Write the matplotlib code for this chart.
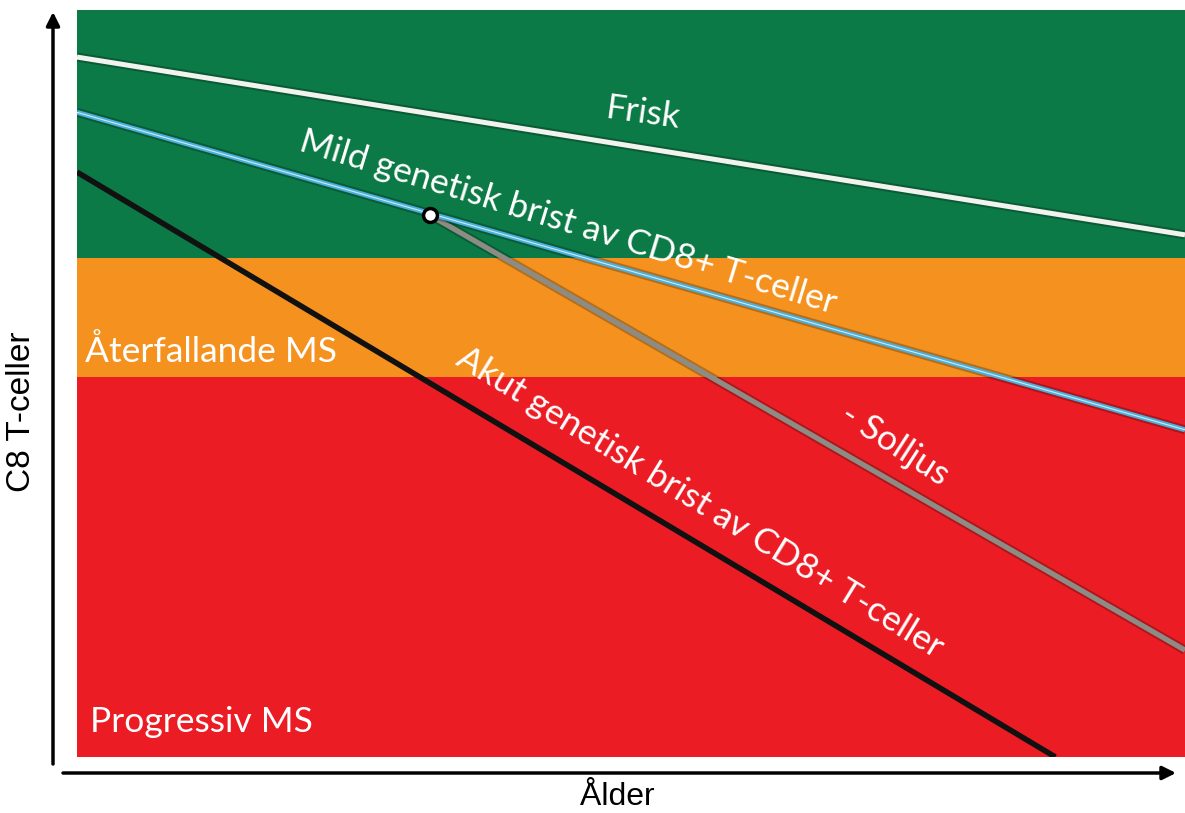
import matplotlib
matplotlib.use("Agg")
import matplotlib.pyplot as plt
import matplotlib.patheffects as pe

# ---- data (arbitrary units, x: age 0-100, y: CD8 T-cells 0-100) ----
band_names = ["Progressiv MS", "Återfallande MS", "Frisk zone"]
band_bottoms = [0, 50.9, 66.8]
band_tops = [50.9, 66.8, 100]
band_colors = ["#ec1c24", "#f5921f", "#0c7a46"]

frisk_x = [0, 100]
frisk_y = [93.7, 69.9]
mild_x = [0, 100]
mild_y = [86.3, 43.8]
akut_x = [0, 88.3]
akut_y = [78.3, 0]
sol_x = [31.9, 100]
sol_y = [72.5, 14.3]
marker_x = [31.9]
marker_y = [72.5]

W, H = 1185, 813
fig = plt.figure(figsize=(W / 100, H / 100), dpi=100)
fig.patch.set_facecolor("white")

L, R, T, B = 77, 1185, 10, 757
ax = fig.add_axes([L / W, (H - B) / H, (R - L) / W, (B - T) / H])
ax.set_xlim(0, 100)
ax.set_ylim(0, 100)
ax.axis("off")

for b0, b1, c in zip(band_bottoms, band_tops, band_colors):
    ax.axhspan(b0, b1, color=c, zorder=0, lw=0)

shadow = [pe.withStroke(linewidth=6.5, foreground=(0, 0, 0, 0.25))]
ax.plot(frisk_x, frisk_y, color="#f2f2ee", lw=3.6, zorder=3,
        path_effects=shadow, solid_capstyle="butt")
ax.plot(mild_x, mild_y, color="#4ab0dc", lw=3.6, zorder=3,
        path_effects=shadow, solid_capstyle="butt")
ax.plot(mild_x, mild_y, color="#cfe9f5", lw=0.8, zorder=3.1, solid_capstyle="butt")
ax.plot(akut_x, akut_y, color="#111111", lw=4, zorder=3, solid_capstyle="butt")
ax.plot(sol_x, sol_y, color="#8c8c84", lw=3.8, zorder=2.9,
        path_effects=shadow, solid_capstyle="butt")
ax.plot(marker_x, marker_y, "o", ms=10, mfc="white", mec="black", mew=2.5, zorder=5)

fam = ["Lato", "DejaVu Sans"]
tk = dict(color="white", family=fam, ha="center", va="center",
          rotation_mode="anchor", transform=None, zorder=6)

def px(x, y):
    return (x, H - y)

fs = 25.5
ax.text(*px(643, 113), "Frisk", fontsize=fs, rotation=-8, **tk)
ax.text(*px(568, 222), "Mild genetisk brist av CD8+ T-celler", fontsize=fs,
        rotation=-17, **tk)
ax.text(*px(700, 503), "Akut genetisk brist av CD8+ T-celler", fontsize=fs,
        rotation=-31.5, **tk)
ax.text(*px(895, 445), "- Solljus", fontsize=fs, rotation=-33, **tk)
tk2 = dict(tk)
tk2["ha"] = "left"
ax.text(*px(85, 352), "Återfallande MS", fontsize=fs, rotation=0, **tk2)
ax.text(*px(90, 722), "Progressiv MS", fontsize=fs, rotation=0, **tk2)

# axes arrows in pixel space
ov = fig.add_axes([0, 0, 1, 1])
ov.set_xlim(0, W)
ov.set_ylim(H, 0)
ov.axis("off")
ov.patch.set_visible(False)
ov.annotate("", xy=(53, 12), xytext=(53, 764),
            arrowprops=dict(arrowstyle="-|>,head_length=0.8,head_width=0.4",
                            color="black", lw=2.5, shrinkA=0, shrinkB=0))
ov.annotate("", xy=(1176, 773), xytext=(63, 773),
            arrowprops=dict(arrowstyle="-|>,head_length=0.8,head_width=0.4",
                            color="black", lw=2.5, shrinkA=0, shrinkB=0))

fig.text(617 / W, 1 - 797 / H, "Ålder", fontsize=23, family="Liberation Sans",
         ha="center", va="center")
fig.text(22 / W, 1 - 412 / H, "C8 T-celler", fontsize=24, family="Liberation Sans",
         ha="center", va="center", rotation=90)

fig.savefig("out.png", dpi=100)
